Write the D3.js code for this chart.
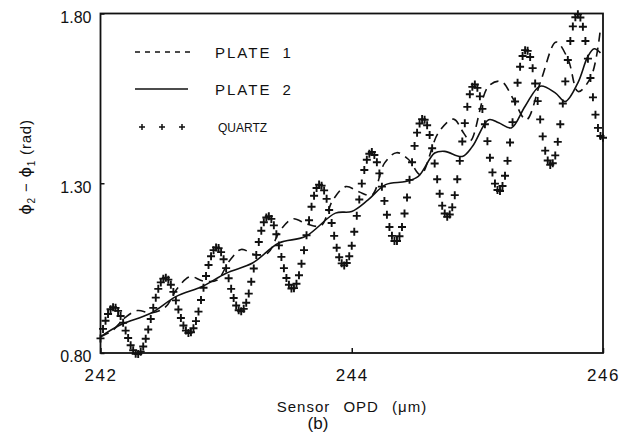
<!DOCTYPE html>
<html>
<head>
<meta charset="utf-8">
<script src="https://cdn.jsdelivr.net/npm/d3@7/dist/d3.min.js"></script>
<style>
  html, body { margin: 0; padding: 0; background: #fff; }
  svg { display: block; }
  text { font-family: "Liberation Sans", Arial, sans-serif; fill: #111; }
</style>
</head>
<body>
<svg id="chart" width="622" height="447"></svg>
<script>
// Phase difference versus sensor OPD for two plates and a quartz reference.

// x grid of the quartz samples (micrometres)
const quartzStart = 242;
const quartzStep = 0.02;
// quartz phase difference (rad), one value per grid step
const quartzValues = [
  0.843, 0.871, 0.895, 0.915, 0.929, 0.935, 0.933, 0.924, 0.909, 0.889,
  0.866, 0.844, 0.823, 0.808, 0.798, 0.797, 0.804, 0.819, 0.842, 0.869,
  0.900, 0.933, 0.963, 0.989, 1.008, 1.019, 1.022, 1.016, 1.001, 0.980,
  0.955, 0.928, 0.903, 0.881, 0.866, 0.859, 0.861, 0.873, 0.894, 0.922,
  0.956, 0.992, 1.027, 1.059, 1.085, 1.103, 1.111, 1.109, 1.097, 1.076,
  1.050, 1.020, 0.989, 0.962, 0.940, 0.926, 0.923, 0.930, 0.948, 0.975,
  1.010, 1.049, 1.089, 1.127, 1.160, 1.185, 1.199, 1.203, 1.195, 1.176,
  1.150, 1.117, 1.083, 1.050, 1.021, 1.001, 0.990, 0.991, 1.004, 1.029,
  1.063, 1.103, 1.147, 1.191, 1.231, 1.263, 1.286, 1.296, 1.293, 1.279,
  1.254, 1.221, 1.183, 1.145, 1.110, 1.082, 1.064, 1.058, 1.065, 1.085,
  1.116, 1.157, 1.204, 1.252, 1.299, 1.339, 1.369, 1.387, 1.392, 1.383,
  1.362, 1.329, 1.290, 1.248, 1.207, 1.171, 1.145, 1.130, 1.130, 1.144,
  1.171, 1.211, 1.258, 1.310, 1.362, 1.410, 1.449, 1.476, 1.489, 1.487,
  1.471, 1.442, 1.403, 1.358, 1.312, 1.269, 1.234, 1.211, 1.201, 1.208,
  1.229, 1.265, 1.312, 1.366, 1.423, 1.477, 1.525, 1.562, 1.584, 1.591,
  1.581, 1.556, 1.519, 1.474, 1.424, 1.375, 1.332, 1.299, 1.280, 1.277,
  1.292, 1.322, 1.366, 1.420, 1.480, 1.541, 1.596, 1.643, 1.675, 1.692,
  1.690, 1.672, 1.639, 1.594, 1.542, 1.488, 1.438, 1.396, 1.367, 1.354,
  1.359, 1.382, 1.422, 1.474, 1.535, 1.600, 1.663, 1.719, 1.762, 1.789,
  1.798, 1.788, 1.761, 1.719, 1.667, 1.610, 1.553, 1.502, 1.463, 1.439,
  1.434
];

// PLATE 1 (dashed)
const plate1X = [
  242.000, 242.095, 242.198, 242.294, 242.405, 242.516, 242.611, 242.714,
  242.817, 242.929, 243.024, 243.119, 243.230, 243.333, 243.429, 243.532,
  243.643, 243.754, 243.849, 243.952, 244.056, 244.159, 244.262, 244.357,
  244.452, 244.548, 244.690, 244.810, 244.889, 244.944, 245.087, 245.190,
  245.286, 245.389, 245.508, 245.627, 245.722, 245.802, 245.905, 245.976
];
const plate1Y = [
  0.848, 0.866, 0.905, 0.925, 0.918, 0.935, 0.990, 1.025,
  1.012, 1.015, 1.070, 1.105, 1.090, 1.095, 1.160, 1.195,
  1.180, 1.175, 1.250, 1.290, 1.275, 1.265, 1.360, 1.390,
  1.370, 1.325, 1.449, 1.489, 1.449, 1.425, 1.585, 1.600,
  1.548, 1.487, 1.605, 1.716, 1.665, 1.570, 1.614, 1.744
];

// PLATE 2 (solid)
const plate2X = [
  242.00, 242.16, 242.40, 242.60, 242.81, 243.00, 243.21, 243.42,
  243.63, 243.87, 244.00, 244.13, 244.27, 244.43, 244.53, 244.66,
  244.74, 244.88, 244.96, 245.09, 245.17, 245.27, 245.38, 245.50,
  245.62, 245.70, 245.80, 245.88, 245.93, 245.98
];
const plate2Y = [
  0.848, 0.883, 0.917, 0.966, 0.996, 1.035, 1.065, 1.124,
  1.143, 1.212, 1.217, 1.251, 1.296, 1.305, 1.320, 1.389,
  1.394, 1.379, 1.408, 1.487, 1.478, 1.463, 1.527, 1.586,
  1.566, 1.541, 1.596, 1.674, 1.696, 1.684
];

// axis ticks
const xTicks = [242, 244, 246];
const yTicks = [0.80, 1.30, 1.80];
const yTickLabels = ["0.80", "1.30", "1.80"];

// legend entries
const legendLabels = ["PLATE 1", "PLATE 2", "QUARTZ"];

const svg = d3.select("#chart");
const plot = { left: 100.5, right: 603, top: 13.5, bottom: 353 };

const x = d3.scaleLinear().domain([242, 246]).range([plot.left, plot.right]);
const y = d3.scaleLinear().domain([0.8, 1.8]).range([plot.bottom, plot.top]);

const quartz = quartzValues.map((v, i) => ({ x: quartzStart + i * quartzStep, y: v }));
const plate1 = plate1X.map((v, i) => ({ x: v, y: plate1Y[i] }));
const plate2 = plate2X.map((v, i) => ({ x: v, y: plate2Y[i] }));

const line = d3.line()
  .x(d => x(d.x))
  .y(d => y(d.y))
  .curve(d3.curveCatmullRom.alpha(0.5));

// curves
svg.append("path")
  .attr("d", line(plate1))
  .attr("fill", "none")
  .attr("stroke", "#111")
  .attr("stroke-width", 1.6)
  .attr("stroke-dasharray", "9,6");

svg.append("path")
  .attr("d", line(plate2))
  .attr("fill", "none")
  .attr("stroke", "#111")
  .attr("stroke-width", 1.6);

const plus = s => `M${-s},0H${s}M0,${-s}V${s}`;

svg.append("g")
  .selectAll("path")
  .data(quartz)
  .join("path")
  .attr("transform", d => `translate(${x(d.x)},${y(d.y)})`)
  .attr("d", plus(4))
  .attr("stroke", "#111")
  .attr("stroke-width", 1.9)
  .attr("fill", "none");

// frame
svg.append("rect")
  .attr("x", plot.left)
  .attr("y", plot.top)
  .attr("width", plot.right - plot.left)
  .attr("height", plot.bottom - plot.top)
  .attr("fill", "none")
  .attr("stroke", "#111")
  .attr("stroke-width", 1.8);

// axes with inward ticks
const xAxis = d3.axisBottom(x).tickValues(xTicks).tickSize(-5).tickFormat(d3.format("d"));
const gx = svg.append("g").attr("transform", `translate(0,${plot.bottom})`).call(xAxis);
gx.select(".domain").remove();
gx.selectAll(".tick line").attr("stroke", "#111").attr("stroke-width", 1.5);
gx.selectAll(".tick text")
  .attr("y", 28)
  .attr("dy", 0)
  .attr("font-size", 17)
  .attr("letter-spacing", 1.5)
  .attr("font-family", "'Liberation Sans', Arial, sans-serif")
  .attr("fill", "#111");

const yAxis = d3.axisLeft(y).tickValues(yTicks).tickSize(-4)
  .tickFormat((d, i) => yTickLabels[i]);
const gy = svg.append("g").attr("transform", `translate(${plot.left},0)`).call(yAxis);
gy.select(".domain").remove();
gy.selectAll(".tick line").attr("stroke", "#111").attr("stroke-width", 1.5);
gy.selectAll(".tick text")
  .attr("x", -9)
  .attr("dy", "0.55em")
  .attr("font-size", 16)
  .attr("font-family", "'Liberation Sans', Arial, sans-serif")
  .attr("fill", "#111");

// axis titles
svg.append("text")
  .attr("x", 352)
  .attr("y", 412)
  .attr("text-anchor", "middle")
  .attr("font-size", 15)
  .attr("letter-spacing", 1)
  .attr("word-spacing", 8)
  .text("Sensor OPD (μm)");

svg.append("text")
  .attr("x", 318)
  .attr("y", 429)
  .attr("text-anchor", "middle")
  .attr("font-size", 17)
  .text("(b)");

const yTitle = svg.append("text")
  .attr("transform", "translate(31,167) rotate(-90)")
  .attr("text-anchor", "middle")
  .attr("font-size", 15)
  .attr("letter-spacing", 0.8);
yTitle.append("tspan").attr("font-family", "'DejaVu Sans', sans-serif").attr("font-size", 16).text("ϕ");
yTitle.append("tspan").attr("font-size", 10).attr("dy", 4).text("2");
yTitle.append("tspan").attr("dy", -4).text(" − ");
yTitle.append("tspan").attr("font-family", "'DejaVu Sans', sans-serif").attr("font-size", 16).text("ϕ");
yTitle.append("tspan").attr("font-size", 10).attr("dy", 4).text("1");
yTitle.append("tspan").attr("dy", -4).text(" (rad)");

// legend
const legend = svg.append("g");
const legendRows = [52, 89, 127];

legend.append("line")
  .attr("x1", 135).attr("x2", 190)
  .attr("y1", legendRows[0]).attr("y2", legendRows[0])
  .attr("stroke", "#111").attr("stroke-width", 1.5)
  .attr("stroke-dasharray", "5,5");

legend.append("line")
  .attr("x1", 135).attr("x2", 188)
  .attr("y1", legendRows[1]).attr("y2", legendRows[1])
  .attr("stroke", "#111").attr("stroke-width", 1.5);

legend.selectAll(".lp")
  .data([142, 162, 182])
  .join("path")
  .attr("class", "lp")
  .attr("transform", d => `translate(${d},${legendRows[2]})`)
  .attr("d", plus(3))
  .attr("stroke", "#111")
  .attr("stroke-width", 1.5);

legend.append("text")
  .attr("x", 215).attr("y", legendRows[0] + 5.5)
  .attr("font-size", 15).attr("letter-spacing", 2).attr("word-spacing", 5)
  .text(legendLabels[0]);
legend.append("text")
  .attr("x", 215).attr("y", legendRows[1] + 5.5)
  .attr("font-size", 15).attr("letter-spacing", 2).attr("word-spacing", 5)
  .text(legendLabels[1]);
legend.append("text")
  .attr("x", 218).attr("y", legendRows[2] + 4.5)
  .attr("font-size", 12)
  .text(legendLabels[2]);
</script>
</body>
</html>
